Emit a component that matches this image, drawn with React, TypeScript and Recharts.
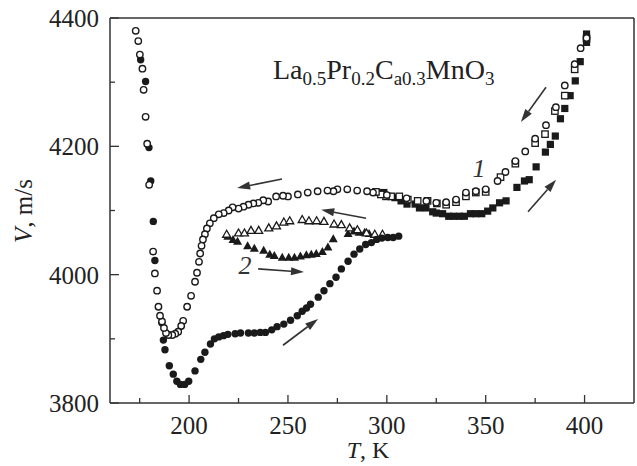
import React from 'react';
import { ScatterChart, Scatter, XAxis, YAxis, ReferenceLine } from 'recharts';

// temperature ticks (K) and velocity ticks (m/s)
const xTicks = [175, 200, 225, 250, 275, 300, 325, 350, 375, 400];
const yTicks = [3800, 3900, 4000, 4100, 4200, 4300, 4400];

// [T, V] pairs
const coolCircles = [
  [401, 4369], [398, 4353], [395, 4328], [390, 4295], [385.5, 4261], [380.5, 4233], [375, 4212], [370, 4192],
  [365, 4177], [360, 4160], [356, 4146], [350, 4133], [345, 4130], [340, 4128], [335, 4117], [330, 4113],
  [325, 4112], [320, 4115], [310, 4119], [300, 4124], [293, 4128], [290, 4130], [285, 4131], [280, 4133],
  [275, 4133], [273, 4130], [270, 4131], [265, 4130], [260, 4128], [255, 4125], [250, 4122], [247.5, 4123],
  [244, 4122], [240, 4114], [237.5, 4116], [235, 4112], [232.5, 4111], [230, 4109], [227.5, 4106], [225, 4103],
  [222, 4105], [220, 4100], [217.5, 4096], [215, 4094], [212.5, 4088], [210.5, 4080], [209, 4072], [208, 4063],
  [207, 4055], [206.3, 4045], [205.6, 4033], [205, 4020], [204, 4003], [203, 3989], [201, 3967], [199, 3950],
  [197, 3928], [196, 3920], [194.5, 3911], [193, 3908], [191.5, 3906], [189.5, 3906], [188.3, 3909], [187.3, 3917],
  [186.3, 3927], [185.3, 3936], [184.5, 3950], [183.8, 3975], [182.7, 4002], [181.8, 4036], [179.8, 4140],
  [178.8, 4204], [178, 4246], [177, 4288], [176.4, 4321], [175.1, 4343], [174.3, 4364], [173, 4380],
];

const heatCircles = [
  [175.5, 4335], [178, 4301], [179.7, 4198], [180.6, 4146], [181.9, 4083], [182.7, 4022], [186.2, 3925],
  [187, 3898], [187.8, 3883], [190, 3858], [192, 3845], [193.8, 3834], [195.6, 3829], [197.8, 3829],
  [199.8, 3834], [203, 3850], [205.9, 3868], [208, 3879], [210.8, 3892], [212.8, 3900], [215, 3903],
  [217.4, 3905], [219.6, 3907], [223.3, 3908], [226, 3909], [230, 3909], [233, 3909], [236, 3910],
  [238.6, 3910], [241.8, 3914], [244.5, 3919], [247.9, 3923], [251.3, 3929], [254.7, 3936], [257.2, 3943],
  [259.4, 3948], [261.4, 3954], [265.3, 3965], [268.2, 3975], [271.2, 3986], [274.3, 3996], [277, 4009],
  [280.4, 4021], [283.4, 4032], [286.3, 4040], [289.3, 4047], [292.2, 4050], [294.9, 4055], [297.5, 4057],
  [300.5, 4058], [303.2, 4058], [306, 4060],
];

const coolSquares = [
  [401, 4368], [395, 4320], [390, 4279], [385, 4255], [380, 4219], [375, 4205], [365, 4173], [357.5, 4152],
  [350, 4129], [345, 4128], [340, 4122], [335, 4113], [330, 4109], [325.3, 4111], [320.6, 4115], [315.6, 4115],
  [310.6, 4117], [306.3, 4122], [302.2, 4122], [299.6, 4122], [297, 4125], [294.5, 4129],
];

const heatSquares = [
  [401, 4375], [401, 4362], [397.8, 4332], [395.3, 4302], [392.7, 4279], [390, 4259], [387.8, 4243],
  [385.2, 4216], [382.7, 4203], [380.2, 4191], [375.5, 4168], [372, 4148], [369.6, 4146], [365.8, 4136],
  [360.3, 4115], [357, 4112], [353.6, 4104], [351, 4099], [348, 4095], [345, 4095], [342.3, 4095],
  [339.2, 4091], [336.7, 4091], [333.8, 4091], [331.3, 4091], [328.2, 4095], [325, 4096], [323.2, 4098],
  [319.8, 4104], [316.5, 4104], [314.3, 4110], [310.2, 4110], [307.2, 4115], [304.1, 4120], [301, 4122],
  [298.5, 4128], [295.4, 4128],
];

const coolTriangles = [
  [219, 4063], [225, 4065], [228, 4065], [231.3, 4069], [235.2, 4069], [240.3, 4073], [244.2, 4076],
  [247.9, 4082], [250.9, 4084], [257.2, 4086], [260.6, 4084], [264.5, 4084], [268.2, 4083], [273.3, 4079],
  [277, 4078], [281.2, 4073], [285.1, 4070], [289.7, 4065], [293.9, 4063], [297.8, 4063],
];

const heatTriangles = [
  [219.6, 4060], [222.2, 4055], [224.5, 4052], [229.6, 4045], [233, 4041], [237.7, 4038], [240.8, 4032],
  [243.1, 4030], [247.1, 4027], [250.4, 4027], [253.3, 4027], [256.3, 4029], [259.3, 4031], [261.8, 4032],
  [264.3, 4033], [267.4, 4036], [270.2, 4043], [272.9, 4056], [280.4, 4064], [283.4, 4068], [286, 4066],
  [288.8, 4066], [291, 4064],
];

// arrows: [T1, V1, T2, V2], head at the second point
const arrows = [
  [247, 4149, 224.3, 4135],
  [289.5, 4088, 266.8, 4101],
  [234.9, 4009, 258.1, 4004],
  [247.5, 3890, 265.2, 3931],
  [380.5, 4292, 367.8, 4238],
  [371.4, 4098, 385.6, 4148],
];

const toPoints = (arr: number[][]) => arr.map(([t, v]) => ({ t, v }));

const INK = '#1a1a1a';
const FONT = '"Liberation Serif", "Times New Roman", serif';

const openCircle = (p: any) => <circle cx={p.cx} cy={p.cy} r={3.2} fill="#fff" stroke={INK} strokeWidth={1.4} />;
const fullCircle = (p: any) => <circle cx={p.cx} cy={p.cy} r={3.7} fill={INK} />;
const openSquare = (p: any) => <rect x={p.cx - 3.2} y={p.cy - 3.2} width={6.4} height={6.4} fill="#fff" stroke={INK} strokeWidth={1.3} />;
const fullSquare = (p: any) => <rect x={p.cx - 3.6} y={p.cy - 3.6} width={7.2} height={7.2} fill={INK} />;
const openTri = (p: any) => (
  <polygon points={`${p.cx},${p.cy - 4} ${p.cx - 4},${p.cy + 3} ${p.cx + 4},${p.cy + 3}`} fill="#fff" stroke={INK} strokeWidth={1.3} />
);
const fullTri = (p: any) => (
  <polygon points={`${p.cx},${p.cy - 4.5} ${p.cx - 4.5},${p.cy + 3.5} ${p.cx + 4.5},${p.cy + 3.5}`} fill={INK} />
);

const arrowShape = (p: any) => {
  const { x1, y1, x2, y2 } = p;
  const dx = x2 - x1;
  const dy = y2 - y1;
  const len = Math.sqrt(dx * dx + dy * dy) || 1;
  const ux = dx / len;
  const uy = dy / len;
  const hl = 13;
  const hw = 4;
  const bx = x2 - ux * hl;
  const by = y2 - uy * hl;
  return (
    <g>
      <line x1={x1} y1={y1} x2={bx} y2={by} stroke="#333" strokeWidth={1.6} />
      <polygon
        points={`${x2},${y2} ${bx - uy * hw},${by + ux * hw} ${bx + uy * hw},${by - ux * hw}`}
        fill="#333"
      />
    </g>
  );
};

const XTick = (props: any) => {
  const { x, y, payload } = props;
  const major = payload.value % 50 === 0;
  return (
    <g>
      <line x1={x} x2={x} y1={y} y2={y - (major ? 8 : 5)} stroke="#333" strokeWidth={1.3} />
      {major && (
        <text x={x} y={y + 31} textAnchor="middle" fontSize={25} fill="#222" fontFamily={FONT}>
          {payload.value}
        </text>
      )}
    </g>
  );
};

const YTick = (props: any) => {
  const { x, y, payload } = props;
  const major = payload.value % 200 === 0;
  return (
    <g>
      <line x1={x} x2={x + (major ? 9 : 5)} y1={y} y2={y} stroke="#333" strokeWidth={1.3} />
      {major && (
        <text x={x - 11} y={y + 9} textAnchor="end" fontSize={25} fill="#222" fontFamily={FONT}>
          {payload.value}
        </text>
      )}
    </g>
  );
};

const frame = { stroke: '#333', strokeWidth: 1.5 };

export default function App() {
  return (
    <div style={{ position: 'absolute', left: 0, top: 0, width: 637, height: 466, background: '#fff' }}>
      <ScatterChart width={637} height={466} margin={{ top: 17, right: 2, bottom: 3, left: 10 }}>
        <XAxis
          type="number"
          dataKey="t"
          domain={[160, 425]}
          ticks={xTicks}
          interval={0}
          height={60}
          tickSize={0}
          tickMargin={0}
          tickLine={false}
          tick={<XTick />}
          axisLine={frame}
          allowDataOverflow
        />
        <XAxis xAxisId="top" orientation="top" type="number" domain={[160, 425]} height={1} tick={false} tickLine={false} axisLine={frame} />
        <YAxis
          type="number"
          dataKey="v"
          domain={[3800, 4400]}
          ticks={yTicks}
          interval={0}
          width={100}
          tickSize={0}
          tickMargin={0}
          tickLine={false}
          tick={<YTick />}
          axisLine={frame}
          allowDataOverflow
        />
        <YAxis yAxisId="right" orientation="right" type="number" domain={[3800, 4400]} width={1} tick={false} tickLine={false} axisLine={frame} />

        <Scatter data={toPoints(heatSquares)} shape={fullSquare} isAnimationActive={false} />
        <Scatter data={toPoints(coolSquares)} shape={openSquare} isAnimationActive={false} />
        <Scatter data={toPoints(heatTriangles)} shape={fullTri} isAnimationActive={false} />
        <Scatter data={toPoints(coolTriangles)} shape={openTri} isAnimationActive={false} />
        <Scatter data={toPoints(heatCircles)} shape={fullCircle} isAnimationActive={false} />
        <Scatter data={toPoints(coolCircles)} shape={openCircle} isAnimationActive={false} />

        {arrows.map(([t1, v1, t2, v2], i) => (
          <ReferenceLine
            key={i}
            segment={[{ x: t1, y: v1 }, { x: t2, y: v2 }]}
            shape={arrowShape}
            ifOverflow="visible"
          />
        ))}
      </ScatterChart>

      <svg width={637} height={466} style={{ position: 'absolute', left: 0, top: 0, pointerEvents: 'none' }}>
        <text x={273} y={79} fontSize={28} fill="#222" fontFamily={FONT}>
          La<tspan fontSize={19} dy={6}>0.5</tspan>
          <tspan dy={-6}>Pr</tspan>
          <tspan fontSize={19} dy={6}>0.2</tspan>
          <tspan dy={-6}>C</tspan>
          <tspan fontSize={19} dy={6}>a0.3</tspan>
          <tspan dy={-6}>MnO</tspan>
          <tspan fontSize={19} dy={6}>3</tspan>
        </text>
        <text x={479} y={177} textAnchor="middle" fontSize={26} fontStyle="italic" fill="#333" fontFamily={FONT}>1</text>
        <text x={245} y={274} textAnchor="middle" fontSize={26} fontStyle="italic" fill="#333" fontFamily={FONT}>2</text>
        <text x={368} y={458} textAnchor="middle" fontSize={24} fill="#222" fontFamily={FONT}>
          <tspan fontStyle="italic">T</tspan>, K
        </text>
        <text transform="translate(32, 211) rotate(-90)" textAnchor="middle" fontSize={25} fill="#222" fontFamily={FONT}>
          <tspan fontStyle="italic">V</tspan>, m/s
        </text>
      </svg>
    </div>
  );
}
